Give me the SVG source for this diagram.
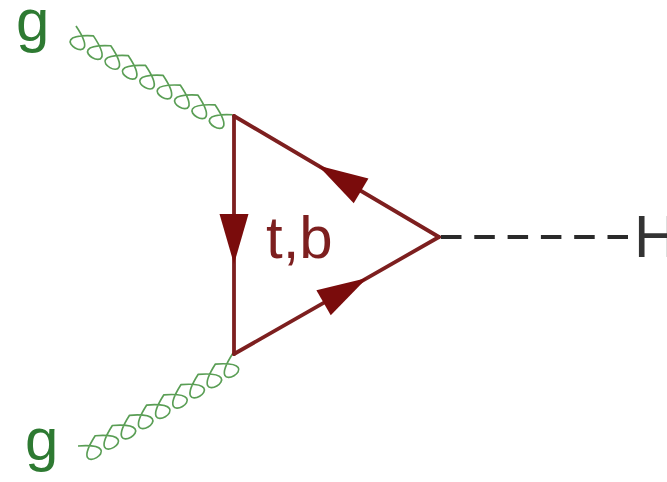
<svg xmlns="http://www.w3.org/2000/svg" width="667" height="482" viewBox="0 0 667 482">
  <style>
    .lbl { font-family: "Liberation Sans", Arial, sans-serif; font-size: 60px; }
    .glabel { fill: #2e7a32; }
    .gluon { fill: none; stroke: #5a9e55; stroke-width: 1.7; stroke-linejoin: round; }
    .fermion { fill: none; stroke: #7d1f1f; stroke-width: 3.8; stroke-linecap: round; stroke-linejoin: round; }
    .arrow { fill: #7a0c0c; }
    .higgs { fill: none; stroke: #2a2a2a; stroke-width: 4; stroke-dasharray: 20.5 12.8; }
  </style>
  <defs>
    <path id="ah" d="M0,0 L-50,-14.5 L-50,14.5 Z"/>
    <path id="curl" d="M0,0 c 52 26 -32 26 20 0 c 52 26 -32 26 20 0 c 52 26 -32 26 20 0 c 52 26 -32 26 20 0 c 52 26 -32 26 20 0 c 52 26 -32 26 20 0 c 52 26 -32 26 20 0 c 52 26 -32 26 20 0 c 52 26 -32 26 20 0"/>
  </defs>

  <g id="connectors">
    <g id="gluon-top">
      <use href="#curl" class="gluon" transform="translate(76,26) rotate(29.55)"/>
    </g>
    <g id="gluon-bottom">
      <use href="#curl" class="gluon" transform="translate(78,446) rotate(-30.8)"/>
    </g>
    <g id="quark-loop">
      <line class="fermion" x1="234" y1="116" x2="234" y2="354"/>
      <line class="fermion" x1="439" y1="237" x2="234" y2="116"/>
      <line class="fermion" x1="234" y1="354" x2="439" y2="237"/>
      <use href="#ah" class="arrow" transform="translate(234,264) rotate(90)"/>
      <use href="#ah" class="arrow" transform="translate(318,165.5) rotate(-149.5)"/>
      <use href="#ah" class="arrow" transform="translate(367,278) rotate(-29.7)"/>
    </g>
    <g id="higgs-line">
      <line class="higgs" x1="441" y1="237" x2="628" y2="237"/>
    </g>
  </g>

  <g id="node-g-top">
    <text class="lbl glabel" x="16" y="41">g</text>
  </g>
  <g id="node-g-bottom">
    <text class="lbl glabel" x="25" y="460">g</text>
  </g>
  <g id="node-loop-label">
    <text class="lbl" x="266" y="258" fill="#7d1f1f">t,b</text>
  </g>
  <g id="node-H">
    <text class="lbl" x="634" y="257" fill="#333333">H</text>
  </g>
</svg>
